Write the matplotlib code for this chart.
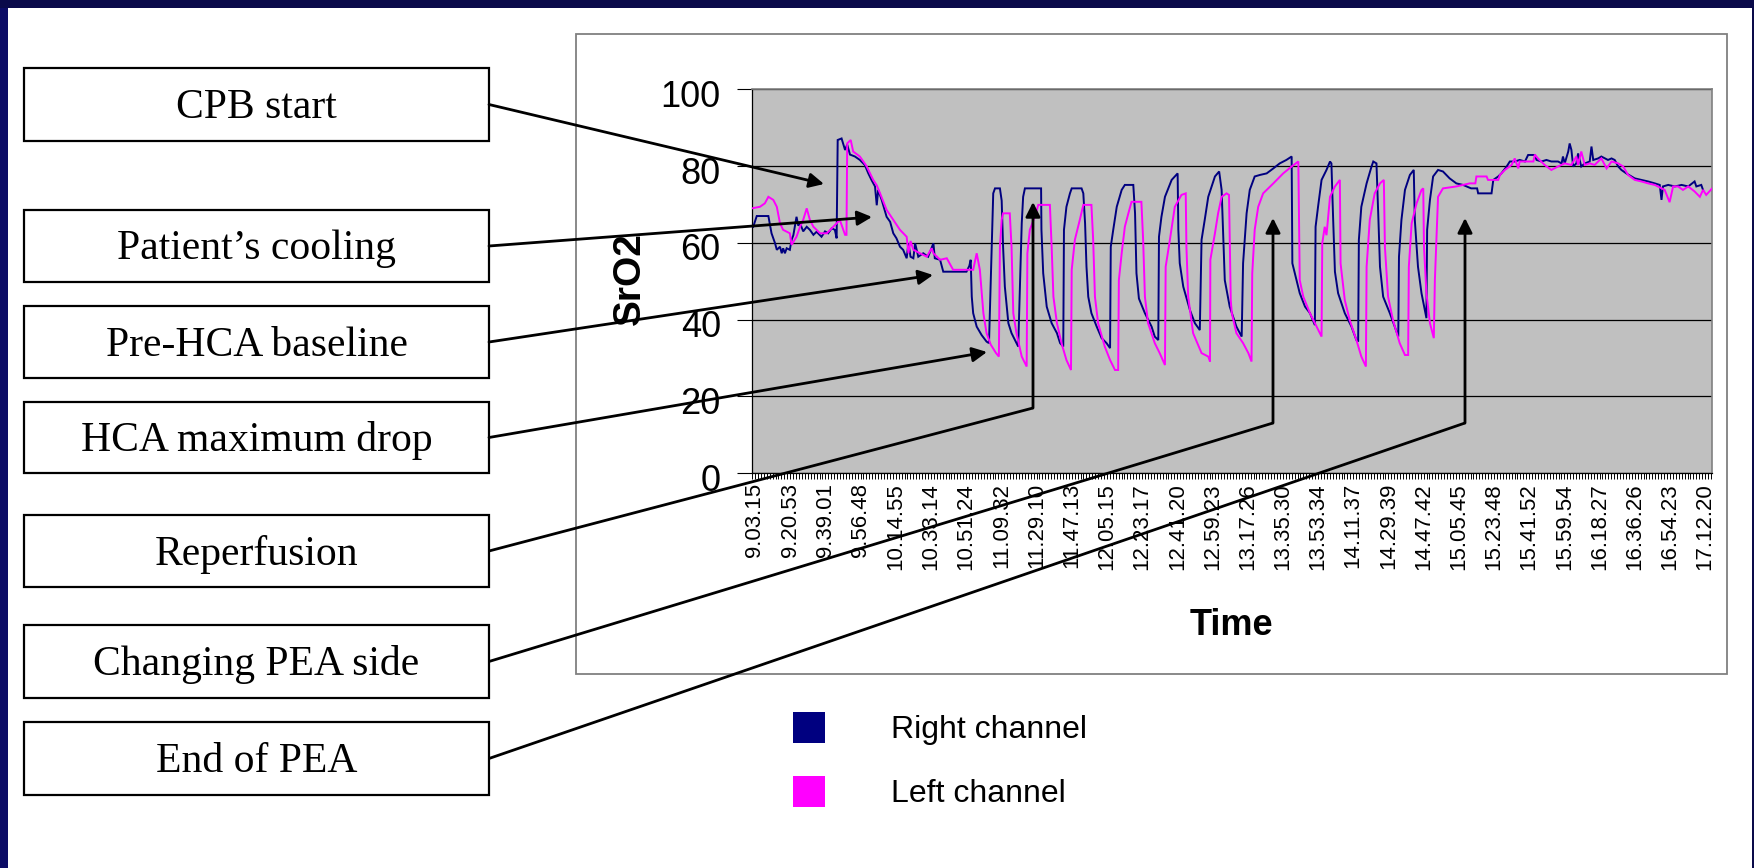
import matplotlib
matplotlib.use("Agg")
import matplotlib.pyplot as plt
from matplotlib import font_manager
from matplotlib.patches import Rectangle
from matplotlib.ticker import MultipleLocator
from matplotlib.transforms import ScaledTranslation

# ---------------- data ----------------
time_labels = ["9.03.15", "9.20.53", "9.39.01", "9.56.48", "10.14.55", "10.33.14",
               "10.51.24", "11.09.32", "11.29.10", "11.47.13", "12.05.15", "12.23.17",
               "12.41.20", "12.59.23", "13.17.26", "13.35.30", "13.53.34", "14.11.37",
               "14.29.39", "14.47.42", "15.05.45", "15.23.48", "15.41.52", "15.59.54",
               "16.18.27", "16.36.26", "16.54.23", "17.12.20"]
y_ticks = [0, 20, 40, 60, 80, 100]

# (position in label units, SrO2 %)
right_channel = [
    (-0.05, 64.2), (0.05, 67.0), (0.38, 67.0), (0.47, 62.5), (0.57, 59.9), (0.62, 58.2), (0.71, 59.0),
    (0.76, 57.3), (0.80, 58.6), (0.85, 57.3), (0.90, 58.6), (0.99, 58.2), (1.04, 60.8), (1.09, 62.0),
    (1.18, 66.8), (1.23, 64.5), (1.28, 65.1), (1.37, 63.0), (1.47, 64.2), (1.56, 63.4), (1.66, 62.1),
    (1.75, 62.9), (1.89, 61.6), (1.99, 63.0), (2.08, 62.5), (2.18, 63.8), (2.27, 63.4), (2.32, 61.2),
    (2.35, 86.8), (2.46, 87.2), (2.56, 84.2), (2.62, 85.6), (2.70, 83.0), (2.84, 82.5), (2.98, 81.6),
    (3.12, 80.3), (3.22, 78.1), (3.31, 76.4), (3.41, 74.7), (3.46, 69.8), (3.50, 73.8), (3.60, 71.2),
    (3.74, 66.8), (3.84, 65.5), (3.93, 62.5), (4.02, 61.2), (4.12, 59.0), (4.21, 58.2), (4.31, 56.0),
    (4.36, 59.9), (4.42, 56.4), (4.50, 56.0), (4.55, 59.9), (4.64, 56.4), (4.78, 57.3), (4.92, 56.4),
    (5.07, 59.9), (5.11, 56.0), (5.26, 55.6), (5.35, 52.5), (6.01, 52.5), (6.09, 54.0), (6.13, 55.6),
    (6.16, 46.0), (6.20, 41.7), (6.30, 38.2), (6.44, 36.0), (6.58, 34.3), (6.63, 34.0), (6.65, 34.0),
    (6.77, 72.9), (6.82, 74.2), (6.96, 74.2), (7.01, 71.0), (7.05, 59.0), (7.10, 48.6), (7.20, 39.1),
    (7.29, 36.5), (7.43, 33.9), (7.48, 33.0), (7.58, 65.1), (7.62, 72.0), (7.67, 74.2), (8.13, 74.2),
    (8.14, 63.4), (8.19, 52.1), (8.29, 43.4), (8.43, 39.1), (8.58, 36.5), (8.67, 33.9), (8.76, 33.0),
    (8.78, 63.4), (8.85, 69.4), (8.95, 72.9), (9.00, 74.2), (9.28, 74.2), (9.33, 72.9), (9.38, 65.1),
    (9.42, 53.8), (9.47, 46.0), (9.56, 41.7), (9.71, 38.2), (9.85, 35.2), (9.99, 33.9), (10.09, 32.6),
    (10.11, 59.0), (10.18, 63.4), (10.28, 69.4), (10.42, 73.8), (10.51, 75.1), (10.75, 75.1),
    (10.80, 67.7), (10.84, 52.1), (10.91, 45.5), (11.08, 41.7), (11.27, 38.2), (11.36, 35.6),
    (11.46, 34.7), (11.48, 61.6), (11.55, 66.8), (11.65, 72.0), (11.84, 76.4), (11.93, 77.3),
    (12.01, 78.1), (12.03, 63.4), (12.07, 54.7), (12.17, 48.6), (12.36, 42.5), (12.50, 39.1),
    (12.64, 37.3), (12.69, 60.8), (12.78, 66.0), (12.88, 72.0), (13.07, 77.3), (13.19, 78.6),
    (13.26, 73.8), (13.30, 63.4), (13.35, 50.3), (13.49, 43.4), (13.68, 38.2), (13.83, 35.6),
    (13.87, 54.7), (13.97, 67.7), (14.06, 73.8), (14.20, 77.3), (14.35, 77.7), (14.54, 78.1),
    (14.73, 79.4), (14.91, 80.7), (15.10, 81.6), (15.25, 82.5), (15.27, 54.7), (15.48, 46.9),
    (15.63, 43.4), (15.77, 41.7), (15.91, 38.6), (15.93, 64.2), (16.00, 69.4), (16.10, 76.4),
    (16.24, 79.0), (16.34, 81.2), (16.38, 80.7), (16.43, 66.0), (16.48, 52.5), (16.57, 46.9),
    (16.76, 41.7), (16.95, 38.2), (17.09, 34.7), (17.14, 34.3), (17.16, 60.8), (17.23, 69.4),
    (17.38, 75.5), (17.52, 79.9), (17.57, 81.2), (17.66, 80.7), (17.71, 67.7), (17.76, 53.8),
    (17.85, 46.0), (18.04, 41.7), (18.18, 38.2), (18.28, 35.6), (18.30, 56.4), (18.37, 66.0),
    (18.47, 73.8), (18.61, 77.7), (18.72, 79.0), (18.75, 66.0), (18.84, 53.8), (18.94, 46.9),
    (19.08, 40.4), (19.10, 63.4), (19.18, 71.2), (19.27, 77.3), (19.41, 79.0), (19.55, 78.6),
    (19.74, 76.8), (19.93, 75.5), (20.12, 75.1), (20.35, 74.2), (20.52, 74.2), (20.55, 72.9),
    (20.93, 72.9), (20.98, 76.4), (21.12, 77.3), (21.21, 78.1), (21.36, 79.9), (21.45, 81.2),
    (21.59, 81.2), (21.73, 81.6), (21.88, 81.2), (21.97, 82.9), (22.16, 82.9), (22.21, 81.6),
    (22.35, 81.2), (22.49, 81.6), (22.63, 81.2), (22.82, 81.2), (22.92, 80.7), (22.96, 82.5),
    (23.01, 80.7), (23.11, 83.8), (23.15, 85.9), (23.20, 84.2), (23.25, 79.9), (23.34, 80.7),
    (23.39, 83.3), (23.48, 79.9), (23.58, 80.7), (23.72, 81.2), (23.77, 85.1), (23.82, 81.6),
    (23.96, 82.0), (24.05, 82.5), (24.24, 81.6), (24.34, 82.0), (24.43, 81.6), (24.53, 79.9),
    (24.62, 79.0), (24.76, 78.1), (24.91, 77.3), (25.00, 76.8), (25.19, 76.4), (25.38, 76.0),
    (25.57, 75.5), (25.71, 75.1), (25.76, 71.2), (25.80, 74.7), (25.95, 75.1), (26.14, 74.7),
    (26.33, 75.1), (26.52, 74.7), (26.70, 76.0), (26.75, 74.7), (26.89, 75.1), (26.94, 73.8),
]

left_channel = [
    (-0.09, 69.0), (0.14, 69.4), (0.28, 70.3), (0.38, 72.0), (0.52, 71.2), (0.62, 69.4), (0.71, 65.1),
    (0.80, 63.4), (0.99, 62.5), (1.04, 59.5), (1.18, 61.6), (1.28, 64.2), (1.37, 66.0), (1.47, 69.0),
    (1.56, 66.0), (1.66, 64.2), (1.85, 62.5), (2.04, 62.5), (2.18, 63.8), (2.32, 65.1), (2.41, 66.0),
    (2.56, 62.1), (2.60, 62.1), (2.62, 85.9), (2.72, 86.8), (2.79, 83.8), (2.98, 82.5), (3.17, 80.0),
    (3.36, 76.4), (3.46, 75.0), (3.55, 73.0), (3.74, 68.6), (3.93, 66.0), (4.12, 63.4), (4.31, 61.6),
    (4.36, 57.3), (4.42, 60.5), (4.50, 58.2), (4.69, 57.3), (4.88, 56.4), (5.02, 58.6), (5.07, 57.3),
    (5.26, 55.6), (5.45, 56.0), (5.63, 53.0), (6.20, 53.0), (6.30, 57.3), (6.39, 53.0), (6.49, 41.7),
    (6.58, 36.5), (6.70, 33.5), (6.85, 31.3), (6.93, 30.4), (6.96, 59.0), (7.01, 66.0), (7.05, 67.7),
    (7.24, 67.7), (7.29, 59.0), (7.34, 41.7), (7.43, 36.5), (7.58, 30.4), (7.72, 27.8), (7.74, 57.3),
    (7.81, 63.4), (7.95, 66.8), (8.05, 69.9), (8.38, 69.9), (8.43, 59.0), (8.48, 46.0), (8.58, 39.1),
    (8.71, 33.9), (8.85, 29.5), (8.98, 26.9), (9.00, 53.0), (9.09, 60.8), (9.23, 66.0), (9.33, 69.9),
    (9.56, 69.9), (9.61, 60.8), (9.66, 46.0), (9.75, 39.1), (9.94, 33.0), (10.09, 29.5), (10.23, 26.9),
    (10.32, 26.9), (10.34, 50.3), (10.42, 57.3), (10.51, 64.2), (10.61, 67.7), (10.70, 70.7),
    (10.98, 70.7), (11.03, 60.8), (11.08, 46.0), (11.17, 39.1), (11.36, 33.9), (11.50, 31.3),
    (11.65, 28.2), (11.67, 53.8), (11.79, 60.8), (11.93, 69.4), (12.12, 72.5), (12.24, 72.9),
    (12.26, 59.0), (12.31, 46.0), (12.45, 36.5), (12.69, 31.3), (12.88, 30.4), (12.93, 29.1),
    (12.94, 55.6), (13.07, 62.5), (13.16, 67.7), (13.26, 72.0), (13.40, 72.9), (13.47, 72.5),
    (13.52, 45.0), (13.55, 41.7), (13.68, 36.5), (13.87, 33.9), (14.02, 31.3), (14.11, 29.1),
    (14.13, 52.0), (14.20, 63.4), (14.30, 69.4), (14.44, 72.9), (14.73, 75.5), (15.01, 78.1),
    (15.25, 79.9), (15.44, 81.2), (15.48, 50.3), (15.58, 46.0), (15.77, 41.7), (15.96, 38.2),
    (16.10, 35.6), (16.12, 59.9), (16.19, 64.2), (16.24, 62.0), (16.34, 72.0), (16.48, 74.7),
    (16.62, 76.4), (16.64, 54.7), (16.76, 45.1), (16.90, 39.9), (17.09, 34.7), (17.23, 30.4),
    (17.36, 27.8), (17.38, 53.8), (17.47, 66.0), (17.61, 72.9), (17.76, 75.5), (17.87, 76.4),
    (17.90, 59.0), (17.99, 46.0), (18.13, 39.9), (18.32, 33.9), (18.47, 30.8), (18.56, 30.8),
    (18.58, 53.8), (18.66, 65.1), (18.80, 70.3), (18.94, 73.8), (18.99, 74.2), (19.01, 59.0),
    (19.08, 46.9), (19.18, 39.1), (19.29, 35.2), (19.32, 50.3), (19.41, 72.0), (19.55, 74.2),
    (19.93, 74.7), (20.12, 75.1), (20.31, 75.5), (20.47, 75.5), (20.50, 77.3), (20.79, 77.3),
    (20.83, 76.4), (21.12, 76.4), (21.17, 77.7), (21.31, 79.0), (21.50, 80.3), (21.59, 82.0),
    (21.69, 79.4), (21.73, 81.2), (22.12, 81.2), (22.16, 83.0), (22.25, 82.0), (22.44, 80.3),
    (22.63, 79.0), (22.82, 79.9), (23.01, 80.7), (23.20, 80.3), (23.34, 82.5), (23.39, 80.3),
    (23.48, 83.8), (23.58, 80.3), (23.72, 80.7), (23.86, 80.3), (24.05, 82.0), (24.20, 79.4),
    (24.34, 81.2), (24.53, 80.7), (24.67, 79.9), (24.81, 77.7), (25.00, 76.4), (25.19, 76.0),
    (25.38, 75.5), (25.57, 75.1), (25.85, 73.8), (25.99, 70.6), (26.09, 74.7), (26.23, 74.7),
    (26.37, 73.8), (26.52, 74.7), (26.70, 73.4), (26.85, 72.0), (26.94, 73.8), (27.03, 72.5),
    (27.20, 74.2),
]

event_labels = ["CPB start", "Patient\u2019s cooling", "Pre-HCA baseline", "HCA maximum drop",
                "Reperfusion", "Changing PEA side", "End of PEA"]
series_names = ["Right channel", "Left channel"]
series_colors = ["#000080", "#FF00FF"]

# ---------------- fonts ----------------
names = {f.name for f in font_manager.fontManager.ttflist}
SANS = "Liberation Sans" if "Liberation Sans" in names else "DejaVu Sans"
SERIF = "Liberation Serif" if "Liberation Serif" in names else "DejaVu Serif"
NARROW = "Liberation Sans Narrow" if "Liberation Sans Narrow" in names else None
plt.rcParams["font.family"] = [SANS, "DejaVu Sans"]

W, H = 1754, 868
fig = plt.figure(figsize=(W / 100, H / 100), dpi=100)
fig.patch.set_facecolor("white")

# ---------------- main chart ----------------
L, R, T, B = 752, 1712, 89.3, 473.3
ax = fig.add_axes([L / W, 1 - B / H, (R - L) / W, (B - T) / H])
ax.set_facecolor("#C0C0C0")
rx = [p[0] for p in right_channel]
ry = [p[1] for p in right_channel]
lx = [p[0] for p in left_channel]
ly = [p[1] for p in left_channel]
ax.plot(rx, ry, color=series_colors[0], lw=1.4, zorder=3, solid_joinstyle="miter")
ax.plot(lx, ly, color=series_colors[1], lw=1.4, zorder=4, solid_joinstyle="miter")
ax.set_xlim(-0.085, 27.195)
ax.set_ylim(0, 100)
ax.set_yticks(y_ticks)
ax.set_yticklabels([str(v) for v in y_ticks])
ax.yaxis.grid(True, color="black", lw=0.9)
ax.set_axisbelow(True)
ax.set_xticks(range(len(time_labels)))
ax.set_xticklabels(time_labels, rotation=90, fontsize=16)
ax.xaxis.set_minor_locator(MultipleLocator(1 / 12))
ax.tick_params(axis="x", which="both", length=4, width=0.7, direction="out", pad=3, colors="black")
ax.tick_params(axis="y", which="major", length=10.5, width=0.8, pad=12)
shift = ScaledTranslation(0, -4 / 100, fig.dpi_scale_trans)
for lbl in ax.get_yticklabels():
    if NARROW:
        lbl.set_family(NARROW)
        lbl.set_fontsize(29)
    else:
        lbl.set_fontsize(26)
    lbl.set_transform(lbl.get_transform() + shift)
for s in ("left", "bottom"):
    ax.spines[s].set_color("black")
    ax.spines[s].set_linewidth(0.9)
for s in ("top", "right"):
    ax.spines[s].set_color("#808080")
    ax.spines[s].set_linewidth(1.2)

# axis titles
fig.text(630 / W, 1 - 279 / H, "SrO2", rotation=90, fontsize=28, fontweight="bold",
         ha="center", va="center")
if NARROW:
    fig.text(1231 / W, 1 - 635 / H, "Time", fontsize=31, fontweight="bold", family=NARROW,
             ha="center", va="baseline")
else:
    fig.text(1231 / W, 1 - 635 / H, "Time", fontsize=26, fontweight="bold",
             ha="center", va="baseline")

# ---------------- overlay (frame, boxes, arrows, legend, border) ----------------
ov = fig.add_axes([0, 0, 1, 1], zorder=10)
ov.set_xlim(0, W)
ov.set_ylim(H, 0)
ov.axis("off")
ov.patch.set_alpha(0)

# chart frame
ov.add_patch(Rectangle((576, 34), 1151, 640, fill=False, ec="#808080", lw=1.3))

# slide border
ov.add_patch(Rectangle((0, 0), 8, H, fc="#0c0c66", ec="none"))
ov.add_patch(Rectangle((0, 0), W, 8, fc="#0a0a4a", ec="none"))
ov.add_patch(Rectangle((W - 2, 0), 2, H, fc="#0a0a4a", ec="none"))

# event boxes
box_tops = [68, 210, 306, 402, 515, 625, 722]
box_bots = [141, 282, 378, 473, 587, 698, 795]
bx0, bx1 = 24, 489
for lab, t, b in zip(event_labels, box_tops, box_bots):
    ov.add_patch(Rectangle((bx0, t), bx1 - bx0, b - t, fc="white", ec="black", lw=1.6))
    ov.text((bx0 + bx1) / 2, (t + b) / 2 + 13.5, lab, family=SERIF, fontsize=30,
            ha="center", va="baseline", color="black")

# arrows: (tip, bend or None)
arrow_tips = [(824, 184), (872, 217), (933, 275), (987, 352), (1033, 202), (1273, 218), (1465, 218)]
arrow_bends = [None, None, None, None, (1033, 408), (1273, 423), (1465, 423)]
ap = dict(arrowstyle="-|>", color="black", lw=2.0, mutation_scale=22, shrinkA=0, shrinkB=0)
for t, b, tip, bend in zip(box_tops, box_bots, arrow_tips, arrow_bends):
    start = (bx1, (t + b) / 2)
    if bend is None:
        ov.annotate("", xy=tip, xytext=start, arrowprops=ap)
    else:
        ov.plot([start[0], bend[0]], [start[1], bend[1]], color="black", lw=2.0,
                solid_capstyle="butt")
        ov.annotate("", xy=tip, xytext=bend, arrowprops=ap)

# legend
leg_tops = [712, 776]
for name, col, t in zip(series_names, series_colors, leg_tops):
    ov.add_patch(Rectangle((793, t), 32, 31, fc=col, ec="none"))
    ov.text(891, t + 26, name, fontsize=23, ha="left", va="baseline", color="black")

fig.savefig("out.png", dpi=100, facecolor="white")
